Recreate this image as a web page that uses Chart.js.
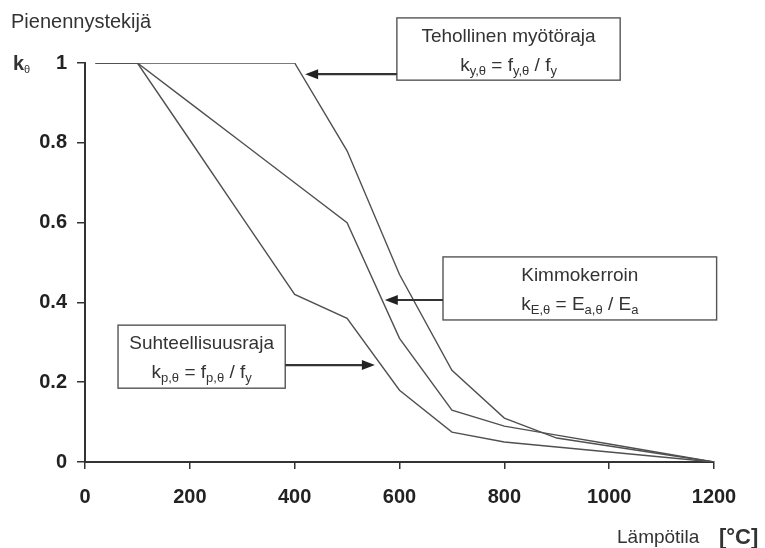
<!DOCTYPE html>
<html>
<head>
<meta charset="utf-8">
<script src="https://cdn.jsdelivr.net/npm/chart.js@4/dist/chart.umd.min.js"></script>
<style>
  html, body { margin: 0; padding: 0; background: #fff; }
  #wrap { width: 765px; height: 548px; }
</style>
</head>
<body>
<div id="wrap"><canvas id="kChart"></canvas></div>
<script>
// temperatures (°C) and reduction factors
const temps = [20, 100, 200, 300, 400, 500, 600, 700, 800, 900, 1000, 1100, 1200];
const kY = [1, 1, 1, 1, 1, 0.78, 0.47, 0.23, 0.11, 0.06, 0.04, 0.02, 0];
const kP = [1, 1, 0.807, 0.613, 0.42, 0.36, 0.18, 0.075, 0.05, 0.0375, 0.025, 0.0125, 0];
const kE = [1, 1, 0.9, 0.8, 0.7, 0.6, 0.31, 0.13, 0.09, 0.0675, 0.045, 0.0225, 0];

// annotation boxes: [x1, x2] in °C, [yTop, yBottom] in k
const boxTitles = ['Tehollinen myötöraja', 'Kimmokerroin', 'Suhteellisuusraja'];
const boxFormulas = [
  [['k'], ['y,θ', 1], [' = f'], ['y,θ', 1], [' / f'], ['y', 1]],
  [['k'], ['E,θ', 1], [' = E'], ['a,θ', 1], [' / E'], ['a', 1]],
  [['k'], ['p,θ', 1], [' = f'], ['p,θ', 1], [' / f'], ['y', 1]],
];
const boxX = [[595, 1021], [683, 1205], [63, 382]];
const boxY = [[1.113, 0.957], [0.514, 0.356], [0.343, 0.185]];
// arrows: from x, to x (head), at y
const arrowFrom = [595, 683, 382];
const arrowTo = [420, 572, 553];
const arrowY = [0.972, 0.406, 0.243];

const toXY = vals => temps.map((t, i) => ({ x: t, y: vals[i] }));
const lineColor = '#505050';
const font = 'Arial, "Liberation Sans", sans-serif';

const drawRich = (c, parts, cx, y) => {
  const measure = p => {
    c.font = p[1] ? `13px ${font}` : `19px ${font}`;
    return c.measureText(p[0]).width;
  };
  const total = parts.reduce((s, p) => s + measure(p), 0);
  let x = cx - total / 2;
  parts.forEach(p => {
    const w = measure(p);
    c.fillText(p[0], x, p[1] ? y + 4 : y);
    x += w;
  });
};

const overlay = {
  id: 'overlay',
  afterDraw(chart) {
    const c = chart.ctx;
    const xs = chart.scales.x, ys = chart.scales.y;
    c.save();
    c.fillStyle = '#333';
    c.textBaseline = 'alphabetic';
    c.textAlign = 'left';
    c.font = `20px ${font}`;
    c.fillText('Pienennystekijä', 11, 28);
    c.font = `bold 20px ${font}`;
    c.fillText('k', 13, 70);
    c.font = `11px ${font}`;
    c.fillText('θ', 24, 73);
    c.font = `19px ${font}`;
    c.fillText('Lämpötila', 617, 543);
    c.font = `bold 22px ${font}`;
    c.fillText('[°C]', 719, 544);

    boxTitles.forEach((title, i) => {
      const x1 = xs.getPixelForValue(boxX[i][0]);
      const x2 = xs.getPixelForValue(boxX[i][1]);
      const y1 = ys.getPixelForValue(boxY[i][0]);
      const y2 = ys.getPixelForValue(boxY[i][1]);
      c.fillStyle = '#fff';
      c.fillRect(x1, y1, x2 - x1, y2 - y1);
      c.strokeStyle = '#555';
      c.lineWidth = 1.4;
      c.strokeRect(x1, y1, x2 - x1, y2 - y1);
      c.fillStyle = '#333';
      c.textAlign = 'center';
      c.font = `19px ${font}`;
      const cx = (x1 + x2) / 2;
      c.fillText(title, cx, y1 + 24);
      c.textAlign = 'left';
      drawRich(c, boxFormulas[i], cx, y1 + 53);

      const ax1 = xs.getPixelForValue(arrowFrom[i]);
      const ax2 = xs.getPixelForValue(arrowTo[i]);
      const ay = ys.getPixelForValue(arrowY[i]);
      const dir = Math.sign(ax2 - ax1);
      c.strokeStyle = '#333';
      c.lineWidth = 2.2;
      c.beginPath();
      c.moveTo(ax1, ay);
      c.lineTo(ax2 - dir * 8, ay);
      c.stroke();
      c.fillStyle = '#222';
      c.beginPath();
      c.moveTo(ax2, ay);
      c.lineTo(ax2 - dir * 13, ay - 5);
      c.lineTo(ax2 - dir * 13, ay + 5);
      c.closePath();
      c.fill();
    });
    c.restore();
  },
};

const ds = (label, vals) => ({
  label,
  data: toXY(vals),
  borderColor: lineColor,
  borderWidth: 1.4,
  pointRadius: 0,
  fill: false,
  tension: 0,
});

const tickFont = { family: font, size: 20, weight: 'bold' };

new Chart(document.getElementById('kChart'), {
  type: 'line',
  data: {
    datasets: [ds('ky', kY), ds('kE', kE), ds('kp', kP)],
  },
  options: {
    responsive: true,
    maintainAspectRatio: false,
    animation: false,
    layout: { padding: { top: 63, right: 51, left: 0, bottom: 0 } },
    plugins: { legend: { display: false }, tooltip: { enabled: false } },
    scales: {
      x: {
        type: 'linear',
        min: 0,
        max: 1200,
        ticks: { stepSize: 200, color: '#222', font: tickFont, padding: 16, callback: v => String(v) },
        grid: { drawOnChartArea: false, tickLength: 7, color: '#333', lineWidth: 1.5 },
        border: { color: '#333', width: 2 },
        afterFit: s => { s.height = 86; },
      },
      y: {
        min: 0,
        max: 1,
        ticks: { stepSize: 0.2, color: '#222', font: tickFont, padding: 10, callback: v => String(Math.round(v * 10) / 10) },
        grid: { drawOnChartArea: false, tickLength: 8, color: '#333', lineWidth: 1.5 },
        border: { color: '#333', width: 2 },
        afterFit: s => { s.width = 85; },
      },
    },
  },
  plugins: [overlay],
});
</script>
</body>
</html>
